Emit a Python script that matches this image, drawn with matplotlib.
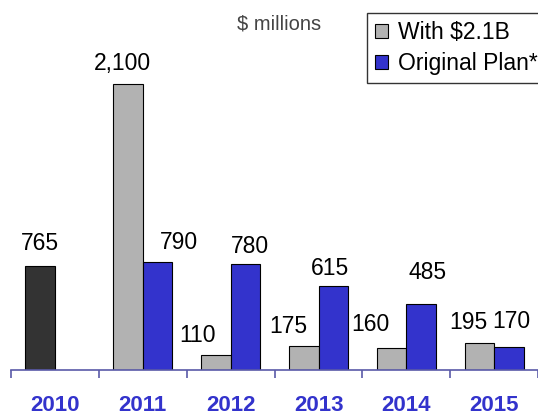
import numpy as np
import matplotlib
matplotlib.use("Agg")
import matplotlib.pyplot as plt

plt.rcParams['font.family'] = ['Liberation Sans', 'DejaVu Sans']

# data ($ millions)
years = ['2010', '2011', '2012', '2013', '2014', '2015']
actual_2010 = 765
with_21b = [2100, 110, 175, 160, 195]      # 2011..2015
original_plan = [790, 780, 615, 485, 170]  # 2011..2015

# label nudges in pixels (dx, dy above bar top), hand-placed like the original
gray_nudge = [(-6, 21), (-18, 20), (-16, 20), (-21, 24), (-11, 21)]
blue_nudge = [(21, 20), (5, 17), (-3, 18), (6, 31), (2, 25)]

c_dark = '#333333'
c_gray = '#B2B2B2'
c_blue = '#3333CC'
c_axis = '#5A5AA8'

fig = plt.figure(figsize=(5.38, 4.16), dpi=100)
ax = fig.add_axes([0.0204, 0.1106, 0.98, 0.8894])

w = 0.335
off = 0.1675
x = np.arange(len(years))

ax.bar(x[0] - off, actual_2010, w, color=c_dark, edgecolor='black', linewidth=0.8)
bg = ax.bar(x[1:] - off, with_21b, w, color=c_gray, edgecolor='black', linewidth=0.8,
            label='With $2.1B')
bb = ax.bar(x[1:] + off, original_plan, w, color=c_blue, edgecolor='black', linewidth=0.8,
            label='Original Plan*')

px = 0.72  # points per pixel at dpi 100


def put_label(xv, yv, dx, dy):
    ax.annotate(f'{yv:,}', xy=(xv, yv), xytext=(dx * px, dy * px),
                textcoords='offset points', ha='center', va='center',
                fontsize=16.5, color='black')


put_label(x[0] - off, actual_2010, 0, 22)
for i in range(len(with_21b)):
    put_label(x[i + 1] - off, with_21b[i], *gray_nudge[i])
    put_label(x[i + 1] + off, original_plan[i], *blue_nudge[i])

ax.set_xlim(-0.5, 5.5)
ax.set_ylim(0, 2717)

for s in ['top', 'right', 'left']:
    ax.spines[s].set_visible(False)
ax.spines['bottom'].set_color(c_axis)
ax.spines['bottom'].set_linewidth(1.2)
ax.set_yticks([])

ax.set_xticks(x)
ax.set_xticklabels(years, fontsize=16, fontweight='bold', color=c_blue)
ax.tick_params(axis='x', which='major', length=0, pad=18)
ax.set_xticks(np.arange(-0.5, 6.0, 1.0), minor=True)
ax.tick_params(axis='x', which='minor', length=6, width=1.2, color=c_axis, direction='out')

fig.text(0.44, 0.942, '$ millions', fontsize=14.5, color='#444444', ha='left', va='center')

leg = fig.legend(handles=[bg, bb], loc='upper left', bbox_to_anchor=(0.682, 0.969),
                 borderaxespad=0, fontsize=16.5, frameon=True, fancybox=False,
                 handlelength=0.55, handleheight=0.55, handletextpad=0.45,
                 borderpad=0.35, labelspacing=0.35)
leg.get_frame().set_edgecolor('black')
leg.get_frame().set_linewidth(1.0)

fig.savefig('out.png', dpi=100)
